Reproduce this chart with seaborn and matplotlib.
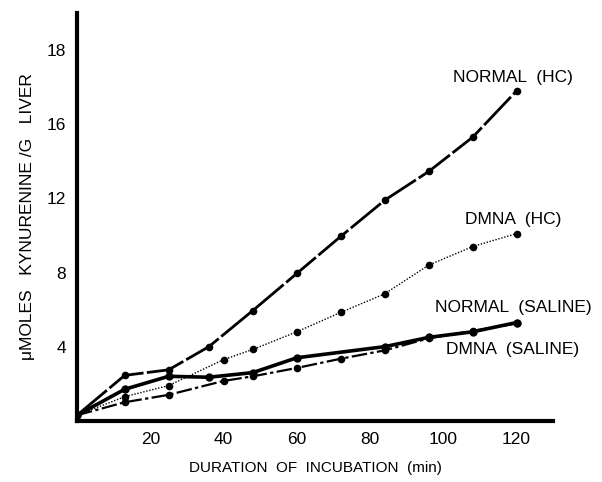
import matplotlib
matplotlib.use('Agg')
import matplotlib.pyplot as plt
import seaborn as sns

# данные (время в минутах, мкмоль кинуренина / г печени)
time_normal_hc = [0, 13, 25, 36, 48, 60, 72, 84, 96, 108, 120]
normal_hc = [0.3, 2.45, 2.75, 4.0, 5.95, 7.95, 9.95, 11.9, 13.45, 15.3, 17.8]

time_dmna_hc = [0, 13, 25, 40, 48, 60, 72, 84, 96, 108, 120]
dmna_hc = [0.3, 1.3, 1.9, 3.3, 3.85, 4.8, 5.85, 6.85, 8.4, 9.4, 10.1]

time_normal_saline = [0, 13, 25, 36, 48, 60, 84, 96, 108, 120]
normal_saline = [0.3, 1.7, 2.4, 2.35, 2.6, 3.4, 4.0, 4.5, 4.8, 5.3]

time_dmna_saline = [0, 13, 25, 40, 48, 60, 72, 84, 96, 108, 120]
dmna_saline = [0.3, 1.0, 1.4, 2.15, 2.4, 2.85, 3.35, 3.8, 4.45, 4.85, 5.25]

y_ticks = [4, 8, 12, 16, 20]
y_tick_labels = ['4', '8', '12', '16', '18']
x_ticks = [20, 40, 60, 80, 100, 120]

sns.set_style('white')
plt.rcParams['font.family'] = ['Liberation Sans', 'DejaVu Sans']
plt.rcParams['text.color'] = 'black'
plt.rcParams['axes.labelcolor'] = 'black'

fig = plt.figure(figsize=(6.02, 4.82), dpi=100)
ax = fig.add_axes([0.128, 0.127, 0.791, 0.846])

sns.lineplot(x=time_normal_hc, y=normal_hc, ax=ax, color='black', lw=2.0,
             linestyle=(0, (14, 1.2)), marker='o', markersize=5.5, markeredgewidth=0)
sns.lineplot(x=time_dmna_hc, y=dmna_hc, ax=ax, color='black', lw=1.0,
             linestyle=(0, (1, 1.2)), marker='o', markersize=5.5, markeredgewidth=0)
sns.lineplot(x=time_normal_saline, y=normal_saline, ax=ax, color='black', lw=2.6,
             linestyle='-', marker='o', markersize=6, markeredgewidth=0)
sns.lineplot(x=time_dmna_saline, y=dmna_saline, ax=ax, color='black', lw=1.6,
             linestyle=(0, (7, 1.5, 1.5, 1.5)), marker='o', markersize=5.5, markeredgewidth=0)

ax.set_xlim(0, 130)
ax.set_ylim(0, 22)
ax.set_xticks(x_ticks)
ax.set_yticks(y_ticks)
ax.set_yticklabels(y_tick_labels)
ax.tick_params(direction='in', length=5, width=1.8, labelsize=12.5, colors='black', pad=8)

sns.despine(ax=ax)
for side in ['left', 'bottom']:
    ax.spines[side].set_linewidth(3)
    ax.spines[side].set_color('black')

# подписи кривых
ax.text(119, 18.5, 'NORMAL  (HC)', fontsize=12.5, ha='center', va='center')
ax.text(119, 10.85, 'DMNA  (HC)', fontsize=12.5, ha='center', va='center')
ax.text(119, 6.1, 'NORMAL  (SALINE)', fontsize=12.5, ha='center', va='center')
ax.text(119, 3.85, 'DMNA  (SALINE)', fontsize=12.5, ha='center', va='center')

ax.set_xlabel('DURATION  OF  INCUBATION  (min)', fontsize=11, labelpad=10)
ax.set_ylabel('\u03bcMOLES   KYNURENINE /G   LIVER', fontsize=12.5, labelpad=8)

fig.savefig('out.png', dpi=100)
